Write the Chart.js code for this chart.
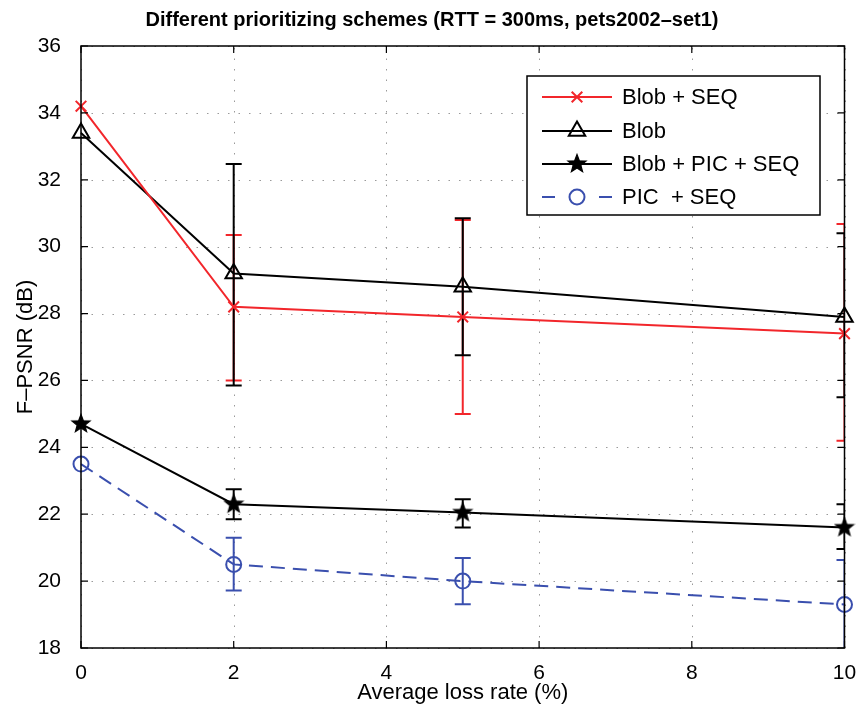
<!DOCTYPE html>
<html>
<head>
<meta charset="utf-8">
<script src="https://cdn.jsdelivr.net/npm/chart.js@4.4.1/dist/chart.umd.min.js"></script>
<style>
  html, body { margin: 0; padding: 0; background: #fff; }
  #wrap { width: 856px; height: 712px; }
</style>
</head>
<body>
<div id="wrap"><canvas id="chart" width="856" height="712"></canvas></div>
<script>
// loss rates (%) on the x axis
const lossRate = [0, 2, 5, 10];

// F-PSNR (dB) per scheme, with error bar ends (null = no bar)
const blobSeq = [34.2, 28.2, 27.9, 27.4];
const blobSeqLow = [null, 26.0, 25.0, 24.2];
const blobSeqHigh = [null, 30.35, 30.8, 30.68];

const blob = [33.4, 29.2, 28.8, 27.9];
const blobLow = [null, 25.85, 26.75, 25.5];
const blobHigh = [null, 32.47, 30.85, 30.4];

const blobPicSeq = [24.7, 22.3, 22.05, 21.6];
const blobPicSeqLow = [null, 21.85, 21.6, 20.96];
const blobPicSeqHigh = [null, 22.75, 22.45, 22.3];

const picSeq = [23.5, 20.5, 20.0, 19.3];
const picSeqLow = [null, 19.72, 19.31, 17.9];
const picSeqHigh = [null, 21.3, 20.69, 20.63];

const xTicks = [0, 2, 4, 6, 8, 10];
const yTicks = [18, 20, 22, 24, 26, 28, 30, 32, 34, 36];

const RED = '#f2262b';
const BLUE = '#3a4fae';
const FONT = "'Liberation Sans', Arial, Helvetica, sans-serif";

// filled pentagram used as the marker for Blob + PIC + SEQ
function makeStar() {
  const c = document.createElement('canvas');
  c.width = 22; c.height = 22;
  const g = c.getContext('2d');
  g.beginPath();
  for (let i = 0; i < 10; i++) {
    const r = i % 2 === 0 ? 9.5 : 4;
    const a = -Math.PI / 2 + i * Math.PI / 5;
    const px = 11 + r * Math.cos(a), py = 11 + r * Math.sin(a);
    if (i === 0) g.moveTo(px, py); else g.lineTo(px, py);
  }
  g.closePath();
  g.fillStyle = '#000';
  g.fill();
  g.lineWidth = 1.2;
  g.strokeStyle = '#000';
  g.stroke();
  return c;
}
const starImg = makeStar();

function pts(values) {
  return lossRate.map((x, i) => ({ x: x, y: values[i] }));
}

const datasets = [
  {
    label: 'Blob + SEQ', data: pts(blobSeq), low: blobSeqLow, high: blobSeqHigh,
    borderColor: RED, backgroundColor: RED, borderWidth: 2,
    pointStyle: 'crossRot', pointRadius: 7.5, pointBorderWidth: 2, pointBorderColor: RED
  },
  {
    label: 'Blob', data: pts(blob), low: blobLow, high: blobHigh,
    borderColor: '#000', backgroundColor: 'rgba(0,0,0,0)', borderWidth: 2,
    pointStyle: 'triangle', pointRadius: 9.5, pointBorderWidth: 2, pointBorderColor: '#000'
  },
  {
    label: 'Blob + PIC + SEQ', data: pts(blobPicSeq), low: blobPicSeqLow, high: blobPicSeqHigh,
    borderColor: '#000', backgroundColor: '#000', borderWidth: 2,
    pointStyle: starImg, pointRadius: 9
  },
  {
    label: 'PIC  + SEQ', data: pts(picSeq), low: picSeqLow, high: picSeqHigh,
    borderColor: BLUE, backgroundColor: 'rgba(0,0,0,0)', borderWidth: 2, borderDash: [14, 8],
    pointStyle: 'circle', pointRadius: 7.5, pointBorderWidth: 2, pointBorderColor: BLUE
  }
];
datasets.forEach(d => { d.clip = false; d.tension = 0; d.pointHoverRadius = d.pointRadius; });

// dotted grid, drawn from the scales' tick values
const gridPlugin = {
  id: 'grid',
  beforeDatasetsDraw(chart) {
    const { ctx, chartArea: a, scales: { x, y } } = chart;
    ctx.save();
    ctx.strokeStyle = '#9a9a9a';
    ctx.lineWidth = 1;
    ctx.setLineDash([1.5, 9]);
    x.ticks.forEach(t => {
      const px = Math.round(x.getPixelForValue(t.value)) + 0.5;
      ctx.beginPath(); ctx.moveTo(px, a.bottom); ctx.lineTo(px, a.top); ctx.stroke();
    });
    y.ticks.forEach(t => {
      const py = Math.round(y.getPixelForValue(t.value)) + 0.5;
      ctx.beginPath(); ctx.moveTo(a.left, py); ctx.lineTo(a.right, py); ctx.stroke();
    });
    ctx.restore();
  }
};

// vertical error bars with caps, clipped to the axes box
const errorBarPlugin = {
  id: 'errorBars',
  beforeDatasetsDraw(chart) {
    const { ctx, chartArea: a, scales: { x, y } } = chart;
    ctx.save();
    ctx.beginPath();
    ctx.rect(a.left, a.top, a.right - a.left, a.bottom - a.top);
    ctx.clip();
    chart.data.datasets.forEach(ds => {
      ctx.strokeStyle = ds.borderColor;
      ctx.lineWidth = 2;
      ctx.setLineDash([]);
      lossRate.forEach((lr, i) => {
        if (ds.low[i] == null) return;
        const px = x.getPixelForValue(lr);
        const yl = y.getPixelForValue(ds.low[i]);
        const yh = y.getPixelForValue(ds.high[i]);
        ctx.beginPath();
        ctx.moveTo(px, yl); ctx.lineTo(px, yh);
        ctx.moveTo(px - 8, yl); ctx.lineTo(px + 8, yl);
        ctx.moveTo(px - 8, yh); ctx.lineTo(px + 8, yh);
        ctx.stroke();
      });
    });
    ctx.restore();
  }
};

// axes box with inward ticks, title and legend box
const framePlugin = {
  id: 'frame',
  afterDraw(chart) {
    const { ctx, chartArea: a, scales: { x, y } } = chart;
    ctx.save();
    ctx.strokeStyle = '#000';
    ctx.lineWidth = 1.5;
    ctx.setLineDash([]);
    ctx.strokeRect(a.left, a.top, a.right - a.left, a.bottom - a.top);
    ctx.lineWidth = 1.2;
    x.ticks.forEach(t => {
      const px = x.getPixelForValue(t.value);
      ctx.beginPath();
      ctx.moveTo(px, a.bottom); ctx.lineTo(px, a.bottom - 7);
      ctx.moveTo(px, a.top); ctx.lineTo(px, a.top + 7);
      ctx.stroke();
    });
    y.ticks.forEach(t => {
      const py = y.getPixelForValue(t.value);
      ctx.beginPath();
      ctx.moveTo(a.left, py); ctx.lineTo(a.left + 7, py);
      ctx.moveTo(a.right, py); ctx.lineTo(a.right - 7, py);
      ctx.stroke();
    });

    // title
    ctx.fillStyle = '#000';
    ctx.font = 'bold 20px ' + FONT;
    ctx.textAlign = 'center';
    ctx.textBaseline = 'middle';
    ctx.fillText('Different prioritizing schemes (RTT = 300ms, pets2002\u2013set1)', 432, 20);

    // legend
    const bx = 527, by = 76, bw = 293, bh = 139;
    ctx.fillStyle = '#fff';
    ctx.fillRect(bx, by, bw, bh);
    ctx.strokeStyle = '#000';
    ctx.lineWidth = 1.5;
    ctx.strokeRect(bx, by, bw, bh);
    const rows = [97, 131, 164, 197];
    chart.data.datasets.forEach((ds, i) => {
      const ly = rows[i];
      ctx.save();
      ctx.strokeStyle = ds.borderColor;
      ctx.lineWidth = 2;
      if (ds.borderDash) ctx.setLineDash([13, 44]);
      ctx.beginPath(); ctx.moveTo(542, ly); ctx.lineTo(612, ly); ctx.stroke();
      ctx.restore();
      if (ds.pointStyle instanceof HTMLCanvasElement) {
        ctx.drawImage(ds.pointStyle, 577 - 11, ly - 11);
      } else {
        ctx.save();
        ctx.strokeStyle = ds.pointBorderColor;
        ctx.fillStyle = ds.backgroundColor;
        ctx.lineWidth = ds.pointBorderWidth;
        ctx.setLineDash([]);
        Chart.helpers.drawPoint(ctx, {
          pointStyle: ds.pointStyle, radius: ds.pointRadius, rotation: 0, borderWidth: ds.pointBorderWidth
        }, 577, ly);
        ctx.restore();
      }
      ctx.fillStyle = '#000';
      ctx.font = '22px ' + FONT;
      ctx.textAlign = 'left';
      ctx.textBaseline = 'middle';
      ctx.fillText(ds.label, 622, ly + 1);
    });
    ctx.restore();
  }
};

new Chart(document.getElementById('chart'), {
  type: 'line',
  data: { datasets: datasets },
  options: {
    responsive: false,
    animation: false,
    layout: { padding: { top: 46, right: 0, left: 0, bottom: 0 } },
    plugins: { legend: { display: false }, tooltip: { enabled: false }, title: { display: false } },
    scales: {
      x: {
        type: 'linear', min: 0, max: 10,
        afterBuildTicks: s => { s.ticks = xTicks.map(v => ({ value: v })); },
        afterFit: s => { s.height = 64; s.paddingRight = 11; },
        ticks: { font: { size: 21, family: FONT }, color: '#000', padding: 13 },
        grid: { display: false, drawTicks: false },
        border: { display: false },
        title: { display: true, text: 'Average loss rate (%)', color: '#000',
                 font: { size: 22, family: FONT }, padding: { top: 0, bottom: 6 } }
      },
      y: {
        type: 'linear', min: 18, max: 36,
        afterBuildTicks: s => { s.ticks = yTicks.map(v => ({ value: v })); },
        afterFit: s => { s.width = 81; },
        ticks: { font: { size: 21, family: FONT }, color: '#000', padding: 20 },
        grid: { display: false, drawTicks: false },
        border: { display: false },
        title: { display: true, text: 'F\u2013PSNR (dB)', color: '#000',
                 font: { size: 22, family: FONT }, padding: { top: 13, bottom: 0 } }
      }
    }
  },
  plugins: [gridPlugin, errorBarPlugin, framePlugin]
});
</script>
</body>
</html>
